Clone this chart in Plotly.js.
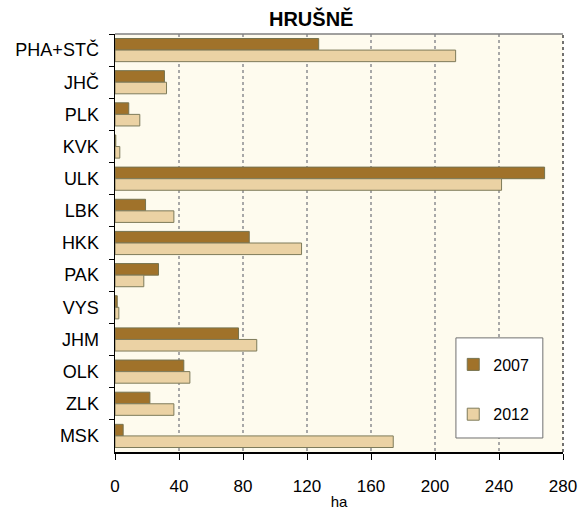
<!DOCTYPE html>
<html>
<head>
<meta charset="utf-8">
<script src="https://cdn.plot.ly/plotly-3.0.1.min.js"></script>
<style>
  body { margin: 0; padding: 0; background: #fff; }
  #chart { width: 586px; height: 510px; }
</style>
</head>
<body>
<div id="chart"></div>
<script>
// kraje, shora dolu
const regions = ['PHA+STČ', 'JHČ', 'PLK', 'KVK', 'ULK', 'LBK', 'HKK', 'PAK', 'VYS', 'JHM', 'OLK', 'ZLK', 'MSK'];

// plocha hrusni v ha
const ha2007 = [127.3, 30.9, 8.6, 0.5, 268.5, 19.1, 83.9, 27.2, 1.4, 77.2, 43.0, 21.8, 5.1];
const ha2012 = [212.9, 32.2, 15.5, 3.0, 241.6, 36.8, 116.6, 18.0, 2.4, 88.6, 46.8, 36.8, 173.9];

const xTicks = [0, 40, 80, 120, 160, 200, 240, 280];

const FONT = '"Liberation Sans", Arial, sans-serif';

var data = [{
  type: 'bar',
  orientation: 'h',
  name: '2007',
  y: regions,
  x: ha2007,
  legendgroup: 'a',
  marker: { color: '#A0722A', line: { color: '#76734f', width: 1 } },
  hoverinfo: 'x+name'
}, {
  type: 'bar',
  orientation: 'h',
  name: '2012',
  y: regions,
  x: ha2012,
  legendgroup: 'b',
  marker: { color: '#EBD2A4', line: { color: '#7e7b5a', width: 1 } },
  hoverinfo: 'x+name'
}];

var layout = {
  width: 586,
  height: 510,
  margin: { l: 115, r: 23, t: 34, b: 58 },
  paper_bgcolor: '#ffffff',
  plot_bgcolor: '#FEFBEE',
  font: { family: FONT, size: 17, color: '#000' },
  title: {
    text: '<b>HRUŠNĚ</b>',
    font: { family: FONT, size: 20, color: '#000' },
    xref: 'paper', x: 0.438, xanchor: 'center',
    yref: 'container', y: 0.962, yanchor: 'middle'
  },
  barmode: 'group',
  bargap: 0.28,
  bargroupgap: 0,
  showlegend: true,
  legend: {
    x: 0.755, xanchor: 'left',
    y: 0.25, yanchor: 'top',
    bgcolor: 'rgba(0,0,0,0)',
    borderwidth: 0,
    traceorder: 'grouped',
    tracegroupgap: 26,
    itemwidth: 30,
    font: { family: FONT, size: 16, color: '#000' }
  },
  xaxis: {
    range: [0, 280],
    tickvals: xTicks,
    ticks: 'outside',
    ticklen: 6,
    tickcolor: '#000',
    ticklabelstandoff: 12,
    tickfont: { family: FONT, size: 17 },
    showline: true,
    linecolor: '#000',
    linewidth: 1.5,
    showgrid: true,
    gridcolor: '#a8a8a8',
    gridwidth: 2,
    griddash: 'dot',
    zeroline: false,
    title: { text: 'ha', font: { family: FONT, size: 15 }, standoff: 2 }
  },
  yaxis: {
    autorange: 'reversed',
    type: 'category',
    ticks: 'outside',
    tickson: 'boundaries',
    ticklen: 5,
    tickcolor: '#000',
    ticklabelstandoff: 11,
    tickfont: { family: FONT, size: 18 },
    showline: true,
    linecolor: '#000',
    linewidth: 1.5,
    showgrid: false,
    zeroline: false
  },
  shapes: [
    // horni okraj
    { type: 'line', xref: 'paper', yref: 'paper', x0: 0, x1: 1, y0: 1, y1: 1,
      line: { color: '#808080', width: 1.5 } },
    // pravy okraj
    { type: 'line', xref: 'paper', yref: 'paper', x0: 1, x1: 1, y0: 0, y1: 1,
      line: { color: '#444', width: 1.5, dash: 'dot' } },
    // ramecek legendy
    { type: 'rect', xref: 'paper', yref: 'paper', layer: 'above',
      x0: 0.761, x1: 0.955, y0: 0.0335, y1: 0.273,
      fillcolor: '#ffffff', line: { color: '#707070', width: 1 } }
  ]
};

Plotly.newPlot('chart', data, layout, { displayModeBar: false, staticPlot: true });
</script>
</body>
</html>
